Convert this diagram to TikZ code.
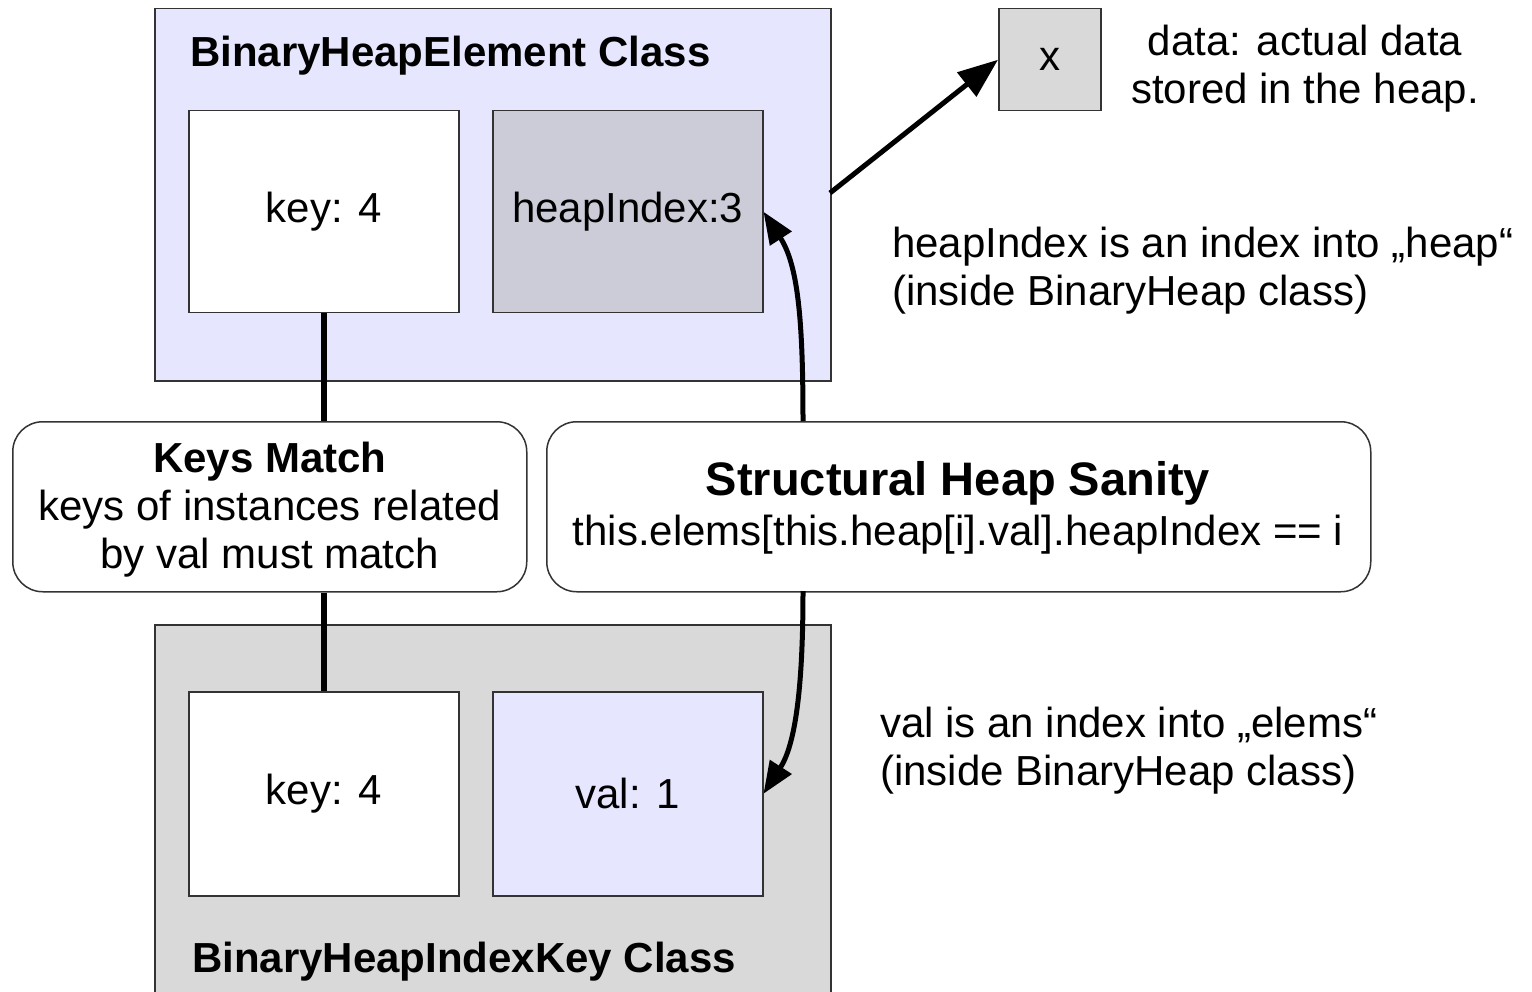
\documentclass[tikz,border=0pt]{standalone}
\usepackage{fontspec}
\setmainfont{Liberation Sans}
\usetikzlibrary{arrows.meta}
\definecolor{lav}{HTML}{E6E6FF}
\definecolor{lgray}{HTML}{D9D9D9}
\definecolor{mgray}{HTML}{CCCCD9}
\definecolor{edge}{HTML}{333333}
\tikzset{
  box/.style={draw=edge, line width=1.5pt, anchor=north west, inner sep=0pt},
  rbox/.style={draw=edge, line width=1.5pt, anchor=north west, inner sep=0pt, rounded corners=30pt, fill=white},
  txt/.style={font=\fontsize{42}{48}\selectfont, inner sep=0pt},
  conn/.style={line width=5.5pt, black},
  arr/.style={line width=5pt, black, -{Triangle[length=32pt,width=25pt]}},
}
\begin{document}
\begin{tikzpicture}[x=1pt,y=-1pt]
\useasboundingbox (0,0) rectangle (1532,992);
\clip (0,0) rectangle (1532,992);
% top class
\node[box, fill=lav, minimum width=676pt, minimum height=372pt] (top) at (154,8) {};
\node[txt, font=\fontsize{42}{48}\selectfont\bfseries, anchor=west] (toptitle) at (190,56) {BinaryHeapElement Class};
\node[box, fill=white, minimum width=270pt, minimum height=202pt] (key1) at (188,110) {};
\node[txt] at (key1.center) {key: 4};
\node[box, fill=mgray, minimum width=270pt, minimum height=202pt] (hidx) at (492,110) {};
\node[txt] at (hidx.center) {heapIndex:3};
% x box
\node[box, fill=lgray, minimum width=102pt, minimum height=102pt] (xb) at (998,8) {};
\node[txt] at (xb.center) {x};
\node[txt, align=center] (datatxt) at (1305,69) {data: actual data\\stored in the heap.};
\node[txt, align=left, anchor=west] (hitxt) at (892,271) {heapIndex is an index into „heap“\\(inside BinaryHeap class)};
% bottom class
\node[box, fill=lgray, minimum width=676pt, minimum height=420pt] (bot) at (154,624) {};
\node[txt, font=\fontsize{42}{48}\selectfont\bfseries, anchor=west] (bottitle) at (192,962) {BinaryHeapIndexKey Class};
\node[box, fill=white, minimum width=270pt, minimum height=204pt] (key2) at (188,691) {};
\node[txt] at (key2.center) {key: 4};
\node[box, fill=lav, minimum width=270pt, minimum height=204pt] (val) at (492,691) {};
\node[txt] at (val.center) {val: 1};
\node[txt, align=left, anchor=west] (valtxt) at (880,751) {val is an index into „elems“\\(inside BinaryHeap class)};
% constraint boxes
\node[rbox, minimum width=514pt, minimum height=170pt] (km) at (12,421) {};
\node[txt, align=center] at ([yshift=-3pt]km.center) {\textbf{Keys Match}\\keys of instances related\\by val must match};
\node[rbox, minimum width=824pt, minimum height=170pt] (shs) at (546,421) {};
\node[txt, font=\fontsize{47}{52}\selectfont\bfseries] at (958,483) {Structural Heap Sanity};
\node[txt] at (958,535) {this.elems[this.heap[i].val].heapIndex == i};
% connectors
\draw[conn] (key1.south -| 324,0) -- (km.north -| 324,0);
\draw[conn] (km.south -| 324,0) -- (key2.north -| 324,0);
\coordinate (a1) at (803,421);
\coordinate (a2) at (803,591);
\draw[arr] (a1) .. controls (803,320) and (798,265) .. (hidx.east);
\draw[arr] (a2) .. controls (803,690) and (795,745) .. (val.east);
\coordinate (tr) at (830,193);
\draw[arr, -{Triangle[length=40pt,width=30pt]}] (tr) -- (xb.west);
\end{tikzpicture}
\end{document}
